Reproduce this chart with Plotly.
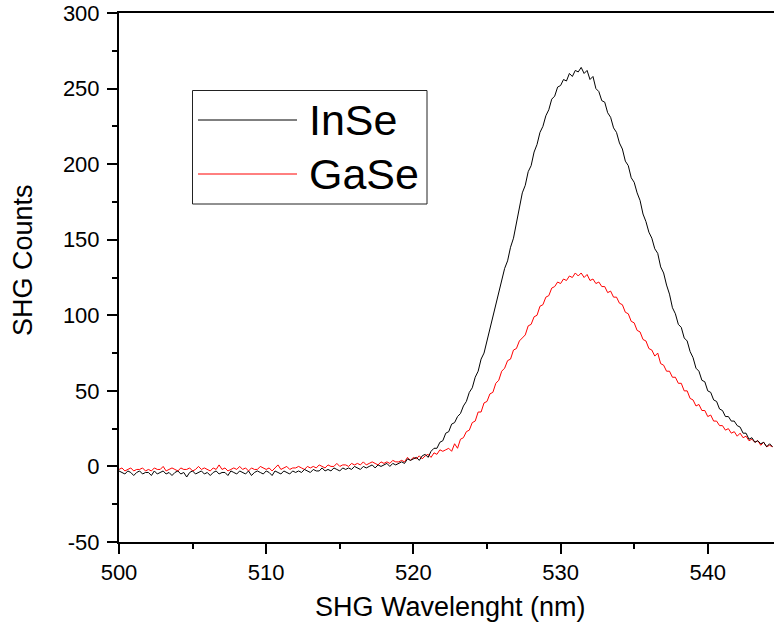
import plotly.graph_objects as go

# Wavelength grid (nm), sampled every 0.2 nm from 500.0 to 544.4
wavelength = [round(500 + 0.2 * i, 1) for i in range(223)]

inse_counts = [
    # 500.0 - 511.8
    -3, -4, -5, -3, -4, -6, -4, -3, -5, -4,
    -4, -6, -3, -5, -4, -3, -5, -4, -6, -4,
    -3, -5, -4, -7, -4, -3, -5, -4, -3, -5,
    -4, -6, -4, -3, -5, -4, -4, -6, -3, -4,
    -5, -3, -4, -5, -3, -6, -4, -3, -4, -5,
    -3, -4, -6, -3, -4, -5, -3, -4, -5, -3,
    # 512.0
    -4,
    # 512.2 - 519.0
    -3, -4, -2, -3, -4, -2, -3, -3, -1, -3,
    -2, -3, -1, -2, -3, -1, -2, -1, -2, 0,
    -1, -2, 0, -1, 0, 1, -1, 1, 0, 1,
    2, 0, 2, 1, 2,
    # 519.2 - 544.4
    3, 2, 5, 4, 5, 6, 4, 7, 8, 6,
    10, 12, 12, 16, 17, 22, 23, 28, 29, 33,
    35, 40, 43, 49, 52, 59, 63, 71, 75, 83,
    89, 98, 105, 114, 121, 131, 136, 145, 151, 161,
    169, 181, 186, 195, 199, 208, 213, 221, 225, 232,
    236, 243, 245, 251, 252, 256, 255, 260, 258, 262,
    261, 264, 260, 262, 256, 258, 250, 248, 242, 241,
    234, 231, 224, 221, 214, 210, 202, 199, 191, 188,
    181, 176, 167, 162, 155, 151, 144, 141, 132, 128,
    120, 114, 105, 101, 94, 92, 85, 83, 76, 72,
    65, 63, 57, 56, 50, 49, 44, 43, 38, 37,
    33, 33, 30, 30, 27, 26, 22, 22, 18, 19,
    16, 17, 15, 16, 13, 15, 13,
]

gase_counts = [
    # 500.0 - 511.8
    -2, -1, -3, -2, -1, -3, -2, -2, -1, -3,
    -2, -3, -1, -2, -2, 0, -3, -2, -1, -2,
    -3, -1, -2, -2, -1, -3, -2, 0, -2, -1,
    -2, -3, -1, -2, 1, -2, -1, -3, -2, -1,
    -2, 0, -2, -1, -3, -1, -2, -2, 0, -1,
    -2, -1, -3, -1, 1, -2, -1, 0, -2, -1,
    # 512.0
    -1,
    # 512.2 - 519.0
    0, -1, -2, 0, -1, 0, -1, 1, 0, -1,
    1, 0, 0, 2, 0, 1, 1, 0, 2, 1,
    2, 1, 3, 1, 2, 3, 2, 1, 3, 2,
    3, 2, 4, 3, 3,
    # 519.2 - 544.4
    4, 3, 6, 4, 6, 5, 7, 5, 7, 8,
    6, 9, 8, 11, 10, 11, 12, 10, 15, 12,
    18, 19, 23, 24, 29, 30, 36, 36, 42, 43,
    48, 49, 55, 57, 63, 65, 70, 71, 77, 78,
    83, 85, 87, 93, 94, 99, 100, 106, 107, 112,
    113, 118, 119, 122, 121, 124, 123, 126, 125, 128,
    126, 128, 125, 127, 123, 124, 121, 122, 119, 119,
    115, 116, 112, 112, 108, 107, 102, 101, 96, 95,
    90, 89, 84, 83, 78, 77, 73, 75, 68, 67,
    63, 63, 59, 59, 55, 55, 50, 50, 45, 44,
    40, 41, 37, 37, 33, 34, 30, 30, 27, 27,
    24, 25, 22, 23, 20, 22, 19, 20, 17, 18,
    16, 17, 14, 16, 13, 14, 13,
]

series_names = ["InSe", "GaSe"]
series_colors = ["#000000", "#ff0000"]
x_ticks = [500, 510, 520, 530, 540]
x_tick_labels = ["500", "510", "520", "530", "540"]
y_ticks = [-50, 0, 50, 100, 150, 200, 250, 300]
y_tick_labels = ["-50", "0", "50", "100", "150", "200", "250", "300"]

FONT = "Liberation Sans, Arial, sans-serif"

fig = go.Figure()
fig.add_trace(go.Scatter(x=wavelength, y=gase_counts, mode="lines",
                         line=dict(color=series_colors[1], width=1),
                         name=series_names[1], showlegend=False))
fig.add_trace(go.Scatter(x=wavelength, y=inse_counts, mode="lines",
                         line=dict(color=series_colors[0], width=1),
                         name=series_names[0], showlegend=False))

# Plot area in page pixels
FIG_W, FIG_H = 774, 628
L, T, W, H = 119, 13, 655, 529
def px(xp):
    return (xp - L) / W
def py(yp):
    return (T + H - yp) / H

fig.add_shape(type="rect", xref="paper", yref="paper",
              x0=px(192.5), x1=px(427), y0=py(204), y1=py(90.5),
              line=dict(color="#222222", width=1), fillcolor="white")
for yy, col, name in [(120, series_colors[0], series_names[0]),
                      (174, series_colors[1], series_names[1])]:
    fig.add_shape(type="line", xref="paper", yref="paper",
                  x0=px(198), x1=px(297), y0=py(yy), y1=py(yy),
                  line=dict(color=col, width=1))
    fig.add_annotation(xref="paper", yref="paper", x=px(307), y=py(yy),
                       text=name, showarrow=False, xanchor="left", yanchor="middle",
                       font=dict(family=FONT, size=43, color="black"))

# Axis titles
fig.add_annotation(xref="paper", yref="paper", x=px(450), y=py(607),
                   text="SHG Wavelenght (nm)", showarrow=False,
                   xanchor="center", yanchor="middle",
                   font=dict(family=FONT, size=27, color="black"))
fig.add_annotation(xref="paper", yref="paper", x=px(23), y=py(260),
                   text="SHG Counts", showarrow=False, textangle=-90,
                   xanchor="center", yanchor="middle",
                   font=dict(family=FONT, size=27, color="black"))

fig.update_layout(
    width=FIG_W, height=FIG_H,
    margin=dict(l=L, r=FIG_W - L - W, t=T, b=FIG_H - T - H),
    paper_bgcolor="white", plot_bgcolor="white",
    font=dict(family=FONT, color="black"),
    showlegend=False,
)
fig.update_xaxes(
    range=[500, 544.5], tickvals=x_ticks, ticktext=x_tick_labels,
    ticks="outside", ticklen=10, tickwidth=2,
    tickcolor="black", showline=True, linecolor="black", linewidth=2, mirror=True,
    showgrid=False, zeroline=False, tickfont=dict(family=FONT, size=22),
    ticklabelstandoff=0,
    minor=dict(ticks="outside", ticklen=5, tickwidth=2, tickcolor="black", dtick=5, tick0=500),
)
fig.update_yaxes(
    range=[-50, 300], tickvals=y_ticks, ticktext=y_tick_labels,
    ticks="outside", ticklen=10, tickwidth=2,
    tickcolor="black", showline=True, linecolor="black", linewidth=2, mirror=False,
    showgrid=False, zeroline=False, tickfont=dict(family=FONT, size=22),
    ticklabelstandoff=3,
    minor=dict(ticks="outside", ticklen=5, tickwidth=2, tickcolor="black", dtick=25, tick0=0),
)

fig.write_html("out.html", config={"displayModeBar": False},
               post_script="document.body.style.margin='0';document.body.style.overflow='hidden';")
